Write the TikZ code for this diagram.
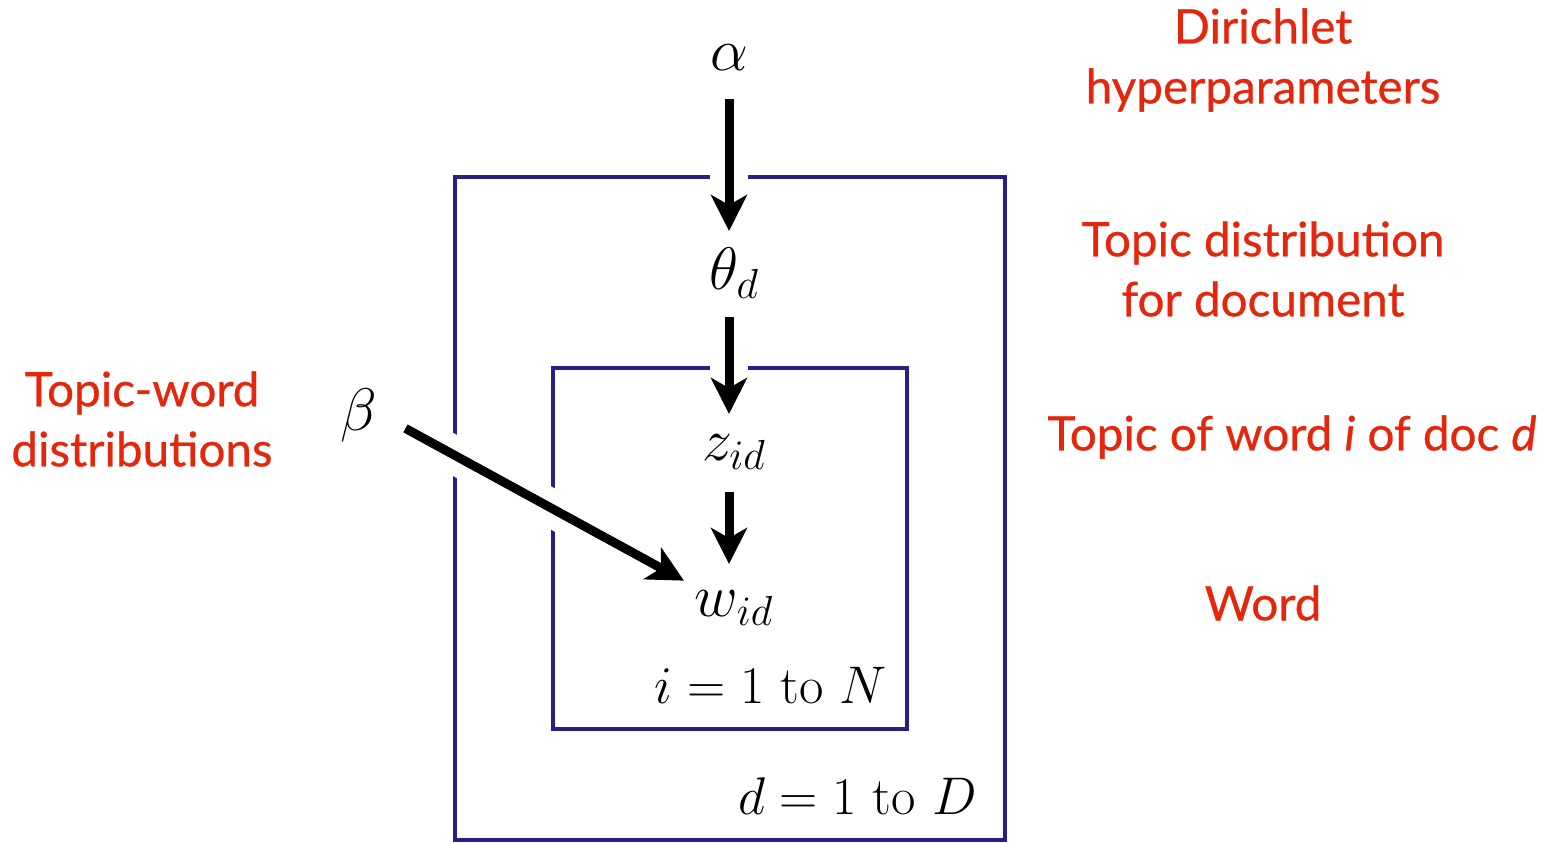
\RequirePackage{fix-cm}
\documentclass[tikz,border=0pt]{standalone}
\usepackage{fontspec}
\newfontfamily\notefont[FakeBold=0.6]{Lato}
\usetikzlibrary{arrows.meta}
\definecolor{notered}{RGB}{228,38,12}
\definecolor{plateblue}{RGB}{45,28,135}

\begin{document}
\begin{tikzpicture}[x=0.5pt, y=-0.5pt,
    every node/.style={font=\fontsize{26.5}{32}\selectfont},
    var/.style={inner sep=0pt, font=\fontsize{30}{36}\selectfont},
    note/.style={text=notered, align=center, font=\notefont\fontsize{23.8}{30}\selectfont},
    plate/.style={draw=plateblue, line width=2pt},
    edge/.style={line width=4.5pt, -{Stealth[length=18pt, width=18pt, inset=5pt]},
        preaction={draw=white, line width=19pt, -}}
]
\useasboundingbox (0,0) rectangle (1551,844);

% Plates
\draw[plate] (455,177) rectangle (1005,840);
\draw[plate] (553,368) rectangle (907,729);

% Variables
\node[var] (alpha) at (729,58) {$\alpha$};
\node[var] (theta) at (734,273) {$\theta_d$};
\node[var] (z) at (734,452) {$z_{id}$};
\node[var] (w) at (734,608) {$w_{id}$};
\node[var] (beta) at (359,415) {$\beta$};

% Plate labels
\node[inner sep=0pt, anchor=east] (inner) at (887,686) {$i = 1 \mathrm{\ to\ } N$};
\node[inner sep=0pt, anchor=east] (outer) at (977,796) {$d = 1 \mathrm{\ to\ } D$};

% Arrows
\draw[edge, shorten <=20.5pt, shorten >=21pt] (alpha.center) -- (alpha.center |- theta.center);
\draw[edge, shorten <=22pt, shorten >=19pt] (alpha.center |- theta.center) -- (alpha.center |- z.center);
\draw[edge, shorten <=20pt, shorten >=22pt] (alpha.center |- z.center) -- (alpha.center |- w.center);
\draw[edge, shorten <=26.5pt, shorten >=28.5pt] ([yshift=6pt]beta.center) -- (w.center);

% Descriptions
\node[note] (dirichlet) at (1263,60) {Dirichlet\\hyperparameters};
\node[note] (topicdist) at (1263,269) {Topic distribution\\for document};
\node[note] (topicword) at (1292,437) {Topic of word \textit{i} of doc \textit{d}};
\node[note] (word) at (1263,603) {Word};
\node[note] (phi) at (142,419) {Topic-word\\distributions};

\end{tikzpicture}
\end{document}
